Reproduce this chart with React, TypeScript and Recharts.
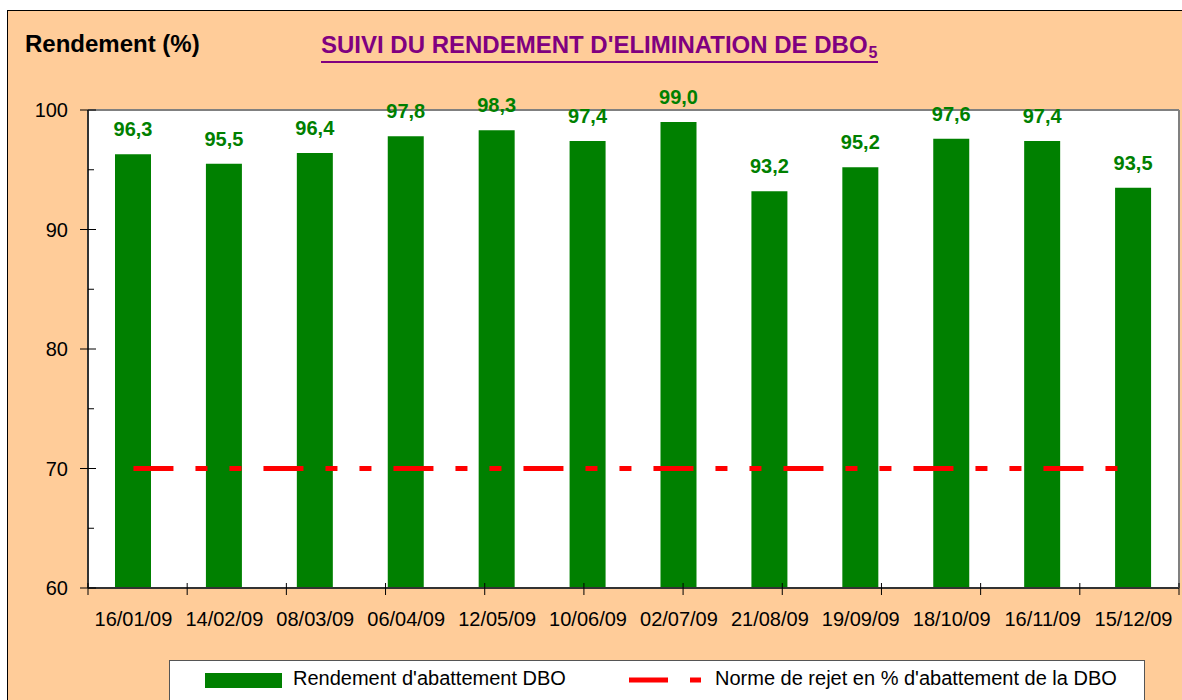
import React from "react";
import { ComposedChart, Bar, Line, XAxis, YAxis, CartesianGrid, LabelList } from "recharts";

const dates = [
  "16/01/09", "14/02/09", "08/03/09", "06/04/09", "12/05/09", "10/06/09",
  "02/07/09", "21/08/09", "19/09/09", "18/10/09", "16/11/09", "15/12/09",
];
const rendement = [96.3, 95.5, 96.4, 97.8, 98.3, 97.4, 99.0, 93.2, 95.2, 97.6, 97.4, 93.5];
const norme = [70, 70, 70, 70, 70, 70, 70, 70, 70, 70, 70, 70];
const yTicks = [60, 65, 70, 75, 80, 85, 90, 95, 100];
const edgeTicks = [0, 1, 2, 3, 4, 5, 6, 7, 8, 9, 10, 11, 12];

const FONT = "Arial, 'Liberation Sans', sans-serif";
const GREEN = "#008000";
const RED = "#FF0000";

const data = dates.map((d, i) => ({ date: d, rendement: rendement[i], norme: norme[i] }));

const fmt = (v: any) => Number(v).toFixed(1).replace(".", ",");

function YTick(props: any) {
  const { x, y, payload } = props;
  const major = payload.value % 10 === 0;
  return (
    <g>
      {major ? (
        <>
          <line x1={x - 8} x2={x + 8} y1={y} y2={y} stroke="#000" strokeWidth={1} />
          <text x={x - 20} y={y + 7} textAnchor="end" fontSize={20} fontFamily={FONT} fill="#000">
            {payload.value}
          </text>
        </>
      ) : (
        <line x1={x} x2={x + 6} y1={y} y2={y} stroke="#000" strokeWidth={1} />
      )}
    </g>
  );
}

function EdgeTick(props: any) {
  const { x, y } = props;
  return <line x1={x} x2={x} y1={y - 5} y2={y + 7} stroke="#000" strokeWidth={1} />;
}

function DateTick(props: any) {
  const { x, y, payload } = props;
  return (
    <text x={x} y={y + 37} textAnchor="middle" fontSize={20} fontFamily={FONT} fill="#000">
      {payload.value}
    </text>
  );
}

export default function App() {
  return (
    <div style={{ position: "fixed", inset: 0, overflow: "hidden", background: "#fff", fontFamily: FONT }}>
      <div
        style={{
          position: "absolute", left: 7, top: 10, width: 1200, height: 720,
          background: "#FFCC99", borderLeft: "1px solid #000", borderTop: "1px solid #000",
        }}
      />
      <div style={{ position: "absolute", left: 25, top: 30, fontSize: 24, fontWeight: "bold", color: "#000" }}>
        Rendement (%)
      </div>
      <div
        style={{
          position: "absolute", left: 321, top: 33, fontSize: 24, lineHeight: "24px", fontWeight: "bold",
          color: "#800080", borderBottom: "2px solid #800080", paddingBottom: 1, whiteSpace: "nowrap",
        }}
      >
        SUIVI DU RENDEMENT D'ELIMINATION DE DBO
        <span style={{ fontSize: 16, position: "relative", top: 5, marginLeft: 1 }}>5</span>
      </div>
      <div style={{ position: "absolute", left: 0, top: 0 }}>
        <ComposedChart width={1182} height={700} data={data} margin={{ top: 109, right: 2, bottom: 81, left: 87 }}>
          <CartesianGrid fill="#fff" horizontal={false} vertical={false} xAxisId="cat" yAxisId="left" />
          <XAxis
            xAxisId="cat" dataKey="date" height={30} tickSize={0} tickMargin={0} tickLine={false}
            axisLine={false} interval={0} tick={<DateTick />}
          />
          <XAxis
            xAxisId="a" type="number" domain={[0, 12]} ticks={edgeTicks} interval={0} allowDataOverflow
            height={1} tickSize={0} tickMargin={0} tickLine={false} tick={<EdgeTick />}
            axisLine={{ stroke: "#333", strokeWidth: 2 }}
          />
          <XAxis
            xAxisId="top" orientation="top" type="number" domain={[0, 1]} allowDataOverflow height={1}
            tick={false} tickLine={false} axisLine={{ stroke: "#808080", strokeWidth: 2 }}
          />
          <YAxis
            yAxisId="left" domain={[60, 100]} ticks={yTicks} interval={0} width={1} tickSize={0} tickMargin={0}
            tickLine={false} tick={<YTick />} axisLine={{ stroke: "#333", strokeWidth: 2 }} allowDataOverflow
          />
          <YAxis
            yAxisId="right" orientation="right" domain={[60, 100]} width={1} tick={false} tickLine={false}
            axisLine={{ stroke: "#808080", strokeWidth: 2 }}
          />
          <Bar dataKey="rendement" xAxisId="cat" yAxisId="left" fill={GREEN} barSize={36} isAnimationActive={false}>
            <LabelList
              dataKey="rendement" position="top" offset={18} formatter={fmt}
              fill={GREEN} fontSize={20} fontWeight="bold" fontFamily={FONT}
            />
          </Bar>
          <Line
            dataKey="norme" xAxisId="cat" yAxisId="left" stroke={RED} strokeWidth={5}
            strokeDasharray="40 22 12 22 12 22" dot={false} activeDot={false} isAnimationActive={false}
          />
        </ComposedChart>
      </div>
      <div
        style={{
          position: "absolute", left: 169, top: 660, width: 974, height: 60,
          background: "#fff", border: "1px solid #555", fontSize: 20, color: "#000",
        }}
      >
        <div style={{ position: "absolute", left: 35, top: 12, width: 77, height: 15, background: GREEN }} />
        <div style={{ position: "absolute", left: 123, top: 6, whiteSpace: "nowrap" }}>Rendement d'abattement DBO</div>
        <svg style={{ position: "absolute", left: 459, top: 15 }} width={72} height={8}>
          <line x1={0} x2={72} y1={4} y2={4} stroke={RED} strokeWidth={5} strokeDasharray="39 22 11" />
        </svg>
        <div style={{ position: "absolute", left: 545, top: 6, whiteSpace: "nowrap" }}>
          Norme de rejet en % d'abattement de la DBO
        </div>
      </div>
    </div>
  );
}
